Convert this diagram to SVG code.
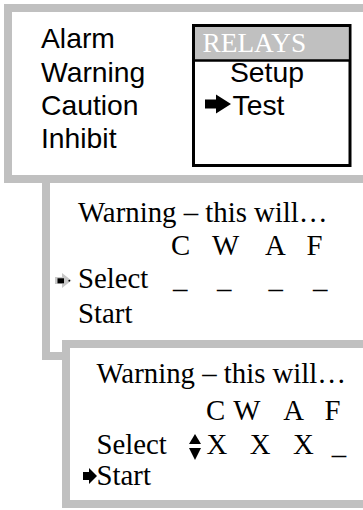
<svg xmlns="http://www.w3.org/2000/svg" width="363" height="510" viewBox="0 0 363 510">
<style>
.panel{fill:#fff;stroke:#c0c0c0;stroke-width:8}
.sans{font-family:"Liberation Sans",Arial,sans-serif;font-size:28.3px;fill:#000}
.serif{font-family:"Liberation Serif","Times New Roman",serif;font-size:28.8px;fill:#000}
.blk{fill:#000}
</style>
<rect width="363" height="510" fill="#fff"/>
<g id="panel2">
<rect class="panel" x="46" y="160" width="400" height="196"/>
</g>
<g id="panel1">
<rect class="panel" x="8" y="8" width="400" height="171"/>
<text class="sans" x="41" y="48.3">Alarm</text>
<text class="sans" x="41" y="81.7">Warning</text>
<text class="sans" x="41" y="115">Caution</text>
<text class="sans" x="41" y="148.3">Inhibit</text>
<g id="relays-menu">
<rect x="193.5" y="25.5" width="156.5" height="140" fill="#fff" stroke="#000" stroke-width="3"/>
<rect x="195" y="27" width="153.5" height="33" fill="#c0c0c0"/>
<line x1="193.5" y1="60.5" x2="350" y2="60.5" stroke="#000" stroke-width="2.5"/>
<text x="202.5" y="51.7" font-family="Liberation Serif,'Times New Roman',serif" font-size="27.3" fill="#fff">RELAYS</text>
<text class="sans" x="230" y="81.7">Setup</text>
<path class="blk" d="M205,99.5 L216,99.5 L216,94.5 L231,104 L216,113.5 L216,108.5 L205,108.5 Z"/>
<text class="sans" x="232.5" y="115">Test</text>
</g>
</g>
<g id="panel2-content">
<text class="serif" x="78" y="222">Warning – this will…</text>
<text class="serif" x="171" y="255">C</text>
<text class="serif" x="212" y="255">W</text>
<text class="serif" x="265" y="255">A</text>
<text class="serif" x="306.5" y="255">F</text>
<path d="M55,277 L62,277 L62,273 L71.5,280.5 L62,288 L62,284 L55,284 Z" fill="#c8c8c8"/>
<rect class="blk" x="57.5" y="278.3" width="6.5" height="5"/>
<circle class="blk" cx="69.3" cy="280.7" r="0.9"/>
<text class="serif" x="78" y="288.3">Select</text>
<text class="serif" x="173" y="288.3">_</text>
<text class="serif" x="217" y="288.3">_</text>
<text class="serif" x="268.5" y="288.3">_</text>
<text class="serif" x="313" y="288.3">_</text>
<text class="serif" x="78" y="322.5">Start</text>
</g>
<g id="panel3">
<rect class="panel" x="66" y="344" width="400" height="160"/>
<text class="serif" x="96.5" y="383.3">Warning – this will…</text>
<text class="serif" x="206" y="420">C</text>
<text class="serif" x="233.3" y="420">W</text>
<text class="serif" x="283.3" y="420">A</text>
<text class="serif" x="324.5" y="420">F</text>
<text class="serif" x="96.5" y="454">Select</text>
<path class="blk" d="M189,444 L195,434 L201,444 Z"/>
<path class="blk" d="M189,448 L201,448 L195,460 Z"/>
<text class="serif" x="206.5" y="454">X</text>
<text class="serif" x="249.7" y="454">X</text>
<text class="serif" x="293" y="454">X</text>
<text class="serif" x="331.7" y="454">_</text>
<path class="blk" d="M83,472 L89,472 L89,468 L97,476 L89,484 L89,480 L83,480 Z"/>
<text class="serif" x="96.5" y="485">Start</text>
</g>
</svg>
